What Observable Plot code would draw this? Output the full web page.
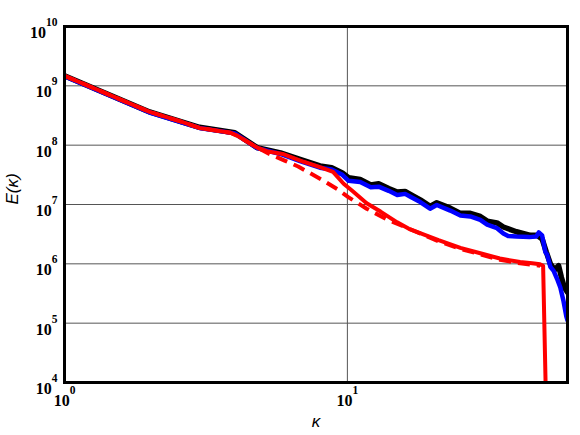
<!DOCTYPE html>
<html><head><meta charset="utf-8">
<script src="https://cdn.jsdelivr.net/npm/d3@7"></script>
<script src="https://cdn.jsdelivr.net/npm/@observablehq/plot@0.6"></script>
<style>html,body{margin:0;padding:0;background:#fff;}</style>
</head><body><div id="chart"></div>
<script>
const xTicks = [1, 10];
const yTicks = [1e4, 1e5, 1e6, 1e7, 1e8, 1e9, 1e10];
const xLabel = "κ";
const yLabel = "E(κ)";

const blackK = [1, 2, 3, 4, 4.8, 5.8, 6.8, 8.0, 8.8, 9.6, 10.1, 11.1, 12.1, 12.9, 14, 15, 16, 16.7, 18.1, 19.6, 20.7, 23.1, 25.1, 27.2, 29.5, 31.2, 33.8, 35.6, 39.6, 44.4, 46.8, 48.8, 50.5, 52.2, 54, 55.8, 57.1, 58.5, 60];
const blackE = [1.48e9, 3.63e8, 2.0e8, 1.62e8, 9.1e7, 7.4e7, 5.75e7, 4.47e7, 4.17e7, 3.39e7, 2.82e7, 2.63e7, 2.14e7, 2.24e7, 1.86e7, 1.62e7, 1.66e7, 1.48e7, 1.20e7, 9.3e6, 1.07e7, 8.7e6, 7.1e6, 7.1e6, 6.3e6, 5.25e6, 4.9e6, 4.17e6, 3.47e6, 3.02e6, 3.02e6, 2.63e6, 1.58e6, 1.0e6, 7.9e5, 9.3e5, 5.9e5, 4.0e5, 3.3e5];

const blueK = [1, 2, 3, 4, 4.8, 5.8, 6.8, 8.0, 8.8, 9.6, 10.1, 11.1, 12.1, 12.9, 14, 15, 16, 16.7, 18.1, 19.6, 20.7, 23.1, 25.1, 27.2, 29.5, 31.2, 33.8, 35.6, 37, 39.6, 44, 46.5, 47.5, 48.8, 50.1, 50.8, 52.2, 53.6, 55.1, 56.6, 58.1, 59.4, 60];
const blueE = [1.45e9, 3.55e8, 1.95e8, 1.58e8, 8.9e7, 7.1e7, 5.4e7, 4.17e7, 3.89e7, 3.16e7, 2.51e7, 2.40e7, 1.95e7, 2.0e7, 1.70e7, 1.45e7, 1.51e7, 1.35e7, 1.10e7, 8.5e6, 9.8e6, 7.9e6, 6.5e6, 6.3e6, 5.5e6, 4.57e6, 3.98e6, 3.24e6, 2.95e6, 2.88e6, 2.82e6, 2.88e6, 3.39e6, 3.02e6, 1.58e6, 1.45e6, 8.9e5, 7.6e5, 5.6e5, 4.0e5, 2.34e5, 1.32e5, 1.12e5];

const redK = [1, 2, 2.57, 3, 3.86, 4.07, 4.8, 5.2, 5.9, 7.0, 8.0, 8.9, 9.7, 10.4, 11.7, 13.1, 15, 16.5, 21, 25.1, 29.5, 34.6, 40.8, 45, 48, 49.2, 50.7];
const redE = [1.48e9, 3.63e8, 2.51e8, 1.95e8, 1.62e8, 1.45e8, 9.1e7, 7.9e7, 7.1e7, 5.25e7, 4.27e7, 3.55e7, 2.24e7, 1.70e7, 1.05e7, 7.6e6, 5.0e6, 3.89e6, 2.51e6, 1.86e6, 1.51e6, 1.23e6, 1.07e6, 1.02e6, 9.8e5, 9.3e5, 1e3];

const dashK = [1, 2, 2.57, 3, 3.86, 4.07, 4.8, 5.3, 6.0, 6.7, 8.1, 9.2, 10.1, 11.7, 13.8, 15.8, 21, 25.1, 29.5, 34.6, 40.8, 48];
const dashE = [1.48e9, 3.63e8, 2.51e8, 1.95e8, 1.62e8, 1.45e8, 9.1e7, 7.1e7, 5.5e7, 4.37e7, 2.63e7, 1.82e7, 1.32e7, 8.5e6, 5.6e6, 4.27e6, 2.40e6, 1.78e6, 1.45e6, 1.17e6, 1.02e6, 9.3e5];

const rows = (K, E) => K.map((k, i) => ({k, e: E[i]}));
const sup = d => "10^" + Math.round(Math.log10(d));

const chart = Plot.plot({
  width: 580, height: 435,
  marginLeft: 64, marginRight: 13, marginTop: 26, marginBottom: 53,
  x: {type: "log", domain: [1, 60], axis: null},
  y: {type: "log", domain: [1e4, 1e10], axis: null},
  style: {background: "white", overflow: "visible"},
  marks: [
    Plot.ruleY(yTicks.slice(1, -1), {stroke: "#555", strokeWidth: 1}),
    Plot.ruleX(xTicks.slice(1), {stroke: "#555", strokeWidth: 1}),
    Plot.line(rows(blackK, blackE), {x: "k", y: "e", stroke: "#000", strokeWidth: 5.5, clip: true}),
    Plot.line(rows(blueK, blueE), {x: "k", y: "e", stroke: "#0000ff", strokeWidth: 4.5, clip: true}),
    Plot.line(rows(dashK, dashE), {x: "k", y: "e", stroke: "#ff0000", strokeWidth: 4, strokeDasharray: "12,7", strokeLinecap: "butt", clip: true}),
    Plot.line(rows(redK, redE), {x: "k", y: "e", stroke: "#ff0000", strokeWidth: 4, clip: true}),
    Plot.frame({stroke: "#000", strokeWidth: 3}),
    Plot.text(yTicks, {y: d => d, frameAnchor: "left", dx: -7, dy: 11.5, textAnchor: "end", lineAnchor: "bottom",
      text: sup, fontSize: 16, fontWeight: "bold", fontFamily: "Liberation Serif", fill: "#000"}),
    Plot.text(xTicks, {x: d => d, frameAnchor: "bottom", dy: 23, textAnchor: "middle", lineAnchor: "bottom",
      text: sup, fontSize: 16, fontWeight: "bold", fontFamily: "Liberation Serif", fill: "#000"}),
    Plot.text([xLabel], {frameAnchor: "bottom", dy: 44, lineAnchor: "bottom", text: d => d,
      fontSize: 17, fontStyle: "italic", fontFamily: "Liberation Sans", fill: "#000"}),
    Plot.text([yLabel], {frameAnchor: "left", dx: -47, rotate: -90, lineAnchor: "bottom", text: d => d,
      fontSize: 17, fontStyle: "italic", fontFamily: "Liberation Sans", fill: "#000"})
  ]
});

chart.querySelectorAll("text").forEach(t => {
  const m = /^10\^(\d+)$/.exec(t.textContent);
  if (m) {
    t.textContent = "10";
    const ts = document.createElementNS("http://www.w3.org/2000/svg", "tspan");
    ts.setAttribute("dy", "-12");
    ts.setAttribute("font-size", "11.5");
    ts.textContent = m[1];
    t.appendChild(ts);
  }
});
document.getElementById("chart").appendChild(chart);
</script>
</body></html>
